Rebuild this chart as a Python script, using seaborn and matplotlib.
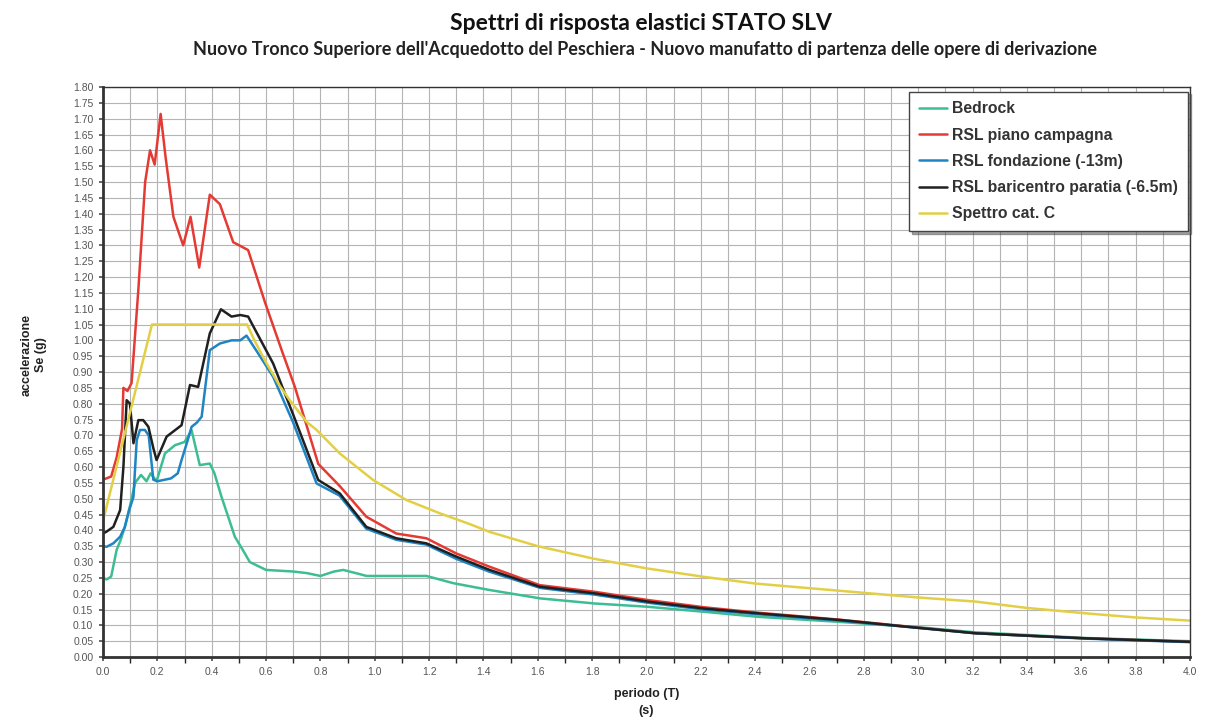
import numpy as np
import pandas as pd
import matplotlib
matplotlib.use("Agg")
import matplotlib.pyplot as plt
from matplotlib.ticker import MultipleLocator, FormatStrFormatter
import seaborn as sns

# --- dati ---
t_bedrock = [0.0, 0.013, 0.03, 0.05, 0.065, 0.08, 0.10, 0.118, 0.14, 0.16, 0.175, 0.197,
             0.228, 0.265, 0.30, 0.315, 0.326, 0.356, 0.393, 0.41, 0.436, 0.485, 0.52,
             0.54, 0.60, 0.70, 0.75, 0.80, 0.85, 0.884, 0.93, 0.97, 1.05, 1.19, 1.29,
             1.42, 1.61, 1.81, 2.0, 2.21, 2.41, 2.71, 3.0, 3.21, 3.62, 4.0]
sa_bedrock = [0.25, 0.245, 0.254, 0.338, 0.37, 0.41, 0.48, 0.55, 0.575, 0.555, 0.58, 0.555,
              0.643, 0.669, 0.679, 0.70, 0.716, 0.606, 0.611, 0.58, 0.506, 0.38, 0.33,
              0.30, 0.275, 0.27, 0.265, 0.256, 0.27, 0.275, 0.265, 0.256, 0.256, 0.256, 0.233,
              0.212, 0.185, 0.169, 0.159, 0.143, 0.127, 0.111, 0.094, 0.078, 0.060, 0.050]

t_campagna = [0.0, 0.03, 0.05, 0.07, 0.075, 0.09, 0.105, 0.13, 0.155, 0.173, 0.19, 0.212,
              0.23, 0.259, 0.295, 0.322, 0.354, 0.393, 0.43, 0.479, 0.534, 0.596, 0.657,
              0.706, 0.792, 0.871, 0.969, 1.079, 1.19, 1.30, 1.423, 1.607, 1.809, 2.005,
              2.213, 2.41, 2.71, 3.0, 3.212, 3.616, 4.0]
sa_campagna = [0.56, 0.57, 0.63, 0.72, 0.85, 0.84, 0.865, 1.16, 1.50, 1.60, 1.555, 1.715,
               1.58, 1.39, 1.30, 1.39, 1.23, 1.46, 1.43, 1.31, 1.285, 1.12, 0.97,
               0.853, 0.61, 0.54, 0.443, 0.39, 0.375, 0.327, 0.285, 0.227, 0.206, 0.18,
               0.157, 0.14, 0.118, 0.093, 0.075, 0.059, 0.048]

t_fondazione = [0.0, 0.013, 0.038, 0.063, 0.08, 0.095, 0.112, 0.124, 0.136, 0.154, 0.168,
                0.185, 0.20, 0.25, 0.275, 0.289, 0.31, 0.326, 0.345, 0.363, 0.393, 0.43,
                0.473, 0.505, 0.528, 0.57, 0.626, 0.70, 0.786, 0.87, 0.969, 1.08, 1.19,
                1.30, 1.42, 1.61, 1.81, 2.0, 2.21, 2.41, 2.71, 3.0, 3.21, 3.62, 4.0]
sa_fondazione = [0.35, 0.348, 0.359, 0.38, 0.41, 0.46, 0.506, 0.685, 0.717, 0.717, 0.70,
                 0.56, 0.555, 0.564, 0.58, 0.622, 0.68, 0.727, 0.74, 0.759, 0.969, 0.99,
                 1.0, 1.0, 1.015, 0.96, 0.885, 0.74, 0.548, 0.51, 0.405, 0.37, 0.355,
                 0.31, 0.27, 0.218, 0.197, 0.172, 0.150, 0.135, 0.115, 0.092, 0.075, 0.058, 0.047]

t_paratia = [0.0, 0.013, 0.038, 0.063, 0.075, 0.087, 0.099, 0.112, 0.13, 0.148, 0.167,
             0.185, 0.197, 0.234, 0.289, 0.32, 0.35, 0.393, 0.434, 0.473, 0.505, 0.534,
             0.626, 0.70, 0.792, 0.871, 0.969, 1.079, 1.19, 1.30, 1.423, 1.607, 1.809,
             2.005, 2.213, 2.41, 2.71, 3.0, 3.212, 3.616, 4.0]
sa_paratia = [0.39, 0.396, 0.411, 0.464, 0.60, 0.811, 0.80, 0.675, 0.748, 0.748, 0.727,
              0.66, 0.622, 0.696, 0.732, 0.859, 0.853, 1.022, 1.098, 1.075, 1.08, 1.075,
              0.927, 0.765, 0.559, 0.517, 0.411, 0.375, 0.359, 0.317, 0.275, 0.222, 0.201,
              0.175, 0.153, 0.138, 0.117, 0.092, 0.075, 0.059, 0.048]

t_cat_c = [0.0, 0.18, 0.53, 0.56, 0.60, 0.65, 0.687, 0.75, 0.786, 0.871, 0.994, 1.116,
           1.239, 1.349, 1.423, 1.60, 1.809, 2.0, 2.213, 2.40, 2.673, 3.0, 3.212, 3.40,
           3.616, 3.80, 4.0]
sa_cat_c = [0.43, 1.05, 1.05, 0.995, 0.93, 0.857, 0.811, 0.742, 0.717, 0.643, 0.559, 0.496,
            0.454, 0.42, 0.395, 0.35, 0.31, 0.28, 0.253, 0.232, 0.212, 0.188, 0.175, 0.155,
            0.138, 0.125, 0.115]

labels = ["Bedrock", "RSL piano campagna", "RSL fondazione (-13m)",
          "RSL baricentro paratia (-6.5m)", "Spettro cat. C"]
colori = ["#3dbd94", "#e53a33", "#1f84c4", "#202020", "#e3cf45"]

series = [(t_bedrock, sa_bedrock), (t_campagna, sa_campagna), (t_fondazione, sa_fondazione),
          (t_paratia, sa_paratia), (t_cat_c, sa_cat_c)]

frames = []
for lab, (t, sa) in zip(labels, series):
    frames.append(pd.DataFrame({"T": t, "Se": sa, "serie": lab}))
df = pd.concat(frames, ignore_index=True)

sns.set_theme(style="whitegrid")
plt.rcParams["font.family"] = ["Liberation Sans", "DejaVu Sans"]

fig = plt.figure(figsize=(12.05, 7.22), dpi=100)
ax = fig.add_axes([0.0855, 0.09, 0.902, 0.7895])

sns.lineplot(data=df, x="T", y="Se", hue="serie", hue_order=labels,
             palette=dict(zip(labels, colori)), estimator=None, sort=False,
             linewidth=1.8, ax=ax)

ax.set_xlim(0, 4.0)
ax.set_ylim(0, 1.80)
ax.xaxis.set_major_locator(MultipleLocator(0.2))
ax.xaxis.set_minor_locator(MultipleLocator(0.1))
ax.yaxis.set_major_locator(MultipleLocator(0.05))
ax.xaxis.set_major_formatter(FormatStrFormatter("%.1f"))
ax.yaxis.set_major_formatter(FormatStrFormatter("%.2f"))
ax.grid(which="both", color="#b4b4b4", linewidth=0.8)
ax.set_facecolor("white")
ax.tick_params(axis="both", labelsize=7.5, colors="#555555", length=3, pad=4)
ax.tick_params(axis="both", which="both", bottom=True, left=True)
for s in ax.spines.values():
    s.set_color("#333333")
    s.set_linewidth(1.0)
ax.spines["left"].set_linewidth(2.0)
ax.spines["bottom"].set_linewidth(2.0)

ax.set_xlabel("periodo (T)\n(s)", fontsize=9, fontweight="bold", color="#222222",
              labelpad=8, linespacing=1.6)
ax.set_ylabel("accelerazione\nSe (g)", fontsize=9, fontweight="bold", color="#222222")
ax.yaxis.set_label_coords(-0.052, 0.53)

fig.text(0.532, 0.968, "Spettri di risposta elastici STATO SLV", ha="center", va="center",
         fontsize=16.5, fontweight="bold", family=["Lato", "DejaVu Sans"], color="#111111")
fig.text(0.535, 0.932, "Nuovo Tronco Superiore dell'Acquedotto del Peschiera - Nuovo manufatto di partenza delle opere di derivazione",
         ha="center", va="center", fontsize=13, fontweight="bold", family=["Lato", "DejaVu Sans"],
         color="#222222")

leg = ax.legend(loc="upper right", bbox_to_anchor=(0.998, 0.992), frameon=True, fancybox=False,
                shadow=True, fontsize=11.3, handlelength=1.8, handletextpad=0.3,
                labelspacing=0.72, borderpad=0.62, borderaxespad=0.0)
leg.get_frame().set_edgecolor("#444444")
leg.get_frame().set_linewidth(1.0)
for txt in leg.get_texts():
    txt.set_fontweight("bold")
    txt.set_color("#333333")

fig.savefig("out.png", dpi=100)
